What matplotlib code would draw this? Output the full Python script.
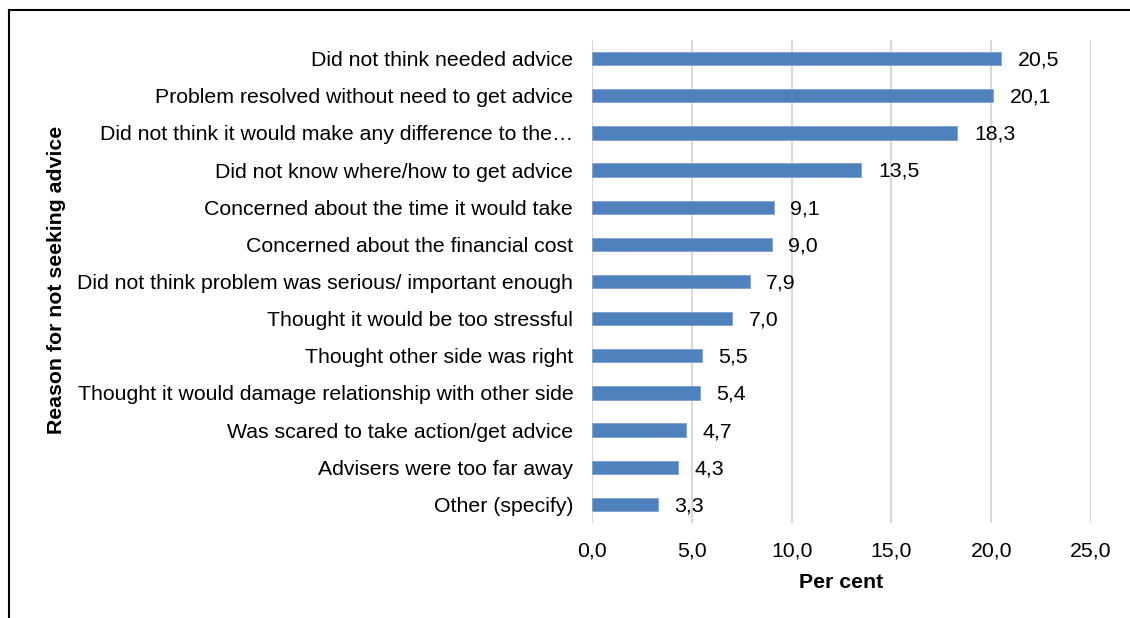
import matplotlib
matplotlib.use("Agg")
import matplotlib.pyplot as plt
from matplotlib.lines import Line2D

categories = [
    "Did not think needed advice",
    "Problem resolved without need to get advice",
    "Did not think it would make any difference to the\u2026",
    "Did not know where/how to get advice",
    "Concerned about the time it would take",
    "Concerned about the financial cost",
    "Did not think problem was serious/ important enough",
    "Thought it would be too stressful",
    "Thought other side was right",
    "Thought it would damage relationship with other side",
    "Was scared to take action/get advice",
    "Advisers were too far away",
    "Other (specify)",
]
values = [20.5, 20.1, 18.3, 13.5, 9.1, 9.0, 7.9, 7.0, 5.5, 5.4, 4.7, 4.3, 3.3]
x_ticks = [0, 5, 10, 15, 20, 25]

plt.rcParams['font.family'] = ['Liberation Sans', 'DejaVu Sans']
FS = 15.3

fig = plt.figure(figsize=(11.30, 6.18), dpi=100)
ax = fig.add_axes([592/1130, 1-523/618, (1091-592)/1130, (523-40)/618])

n = len(categories)
ypos = list(range(n))[::-1]
ax.barh(ypos, values, height=0.36, color='#4F81BD', edgecolor='#7EA3D1', linewidth=0.6, zorder=3)
for y, v in zip(ypos, values):
    ax.annotate(f"{v:.1f}".replace('.', ','), (v, y), xytext=(12, -1), textcoords='offset points',
                va='center', ha='left', fontsize=FS, color='black')

ax.set_xlim(0, 25)
ax.set_ylim(-0.5, n - 0.5)
ax.set_xticks(x_ticks)
ax.set_xticklabels([f"{t:.1f}".replace('.', ',') for t in x_ticks], fontsize=FS)
ax.set_yticks(ypos)
ax.set_yticklabels(categories, fontsize=FS)
ax.tick_params(axis='both', length=0)
ax.tick_params(axis='y', pad=13.5)
ax.tick_params(axis='x', pad=13)
ax.grid(axis='x', color='#D9D9D9', linewidth=1.5, zorder=0)
for s in ax.spines.values():
    s.set_visible(False)

ax.set_xlabel("Per cent", fontsize=FS, fontweight='bold', labelpad=9)
fig.text(57/1130, 1-280/618, "Reason for not seeking advice", rotation=90, fontsize=FS,
         fontweight='bold', ha='center', va='center')

fig.add_artist(Line2D([9/1130, 9/1130], [0, 1-10/618], transform=fig.transFigure, color='black', linewidth=1.5))
fig.add_artist(Line2D([9/1130, 1], [1-10/618, 1-10/618], transform=fig.transFigure, color='black', linewidth=1.5))

fig.savefig("out.png", dpi=100)
